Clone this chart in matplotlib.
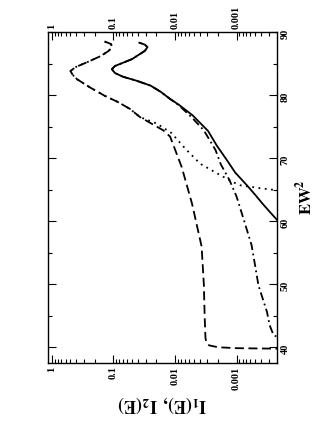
import matplotlib
matplotlib.use("Agg")
import matplotlib.pyplot as plt
from matplotlib.ticker import FixedLocator, FixedFormatter, LogLocator, NullFormatter, MultipleLocator

plt.rcParams['font.family'] = ['Liberation Serif', 'DejaVu Serif']
plt.rcParams['mathtext.fontset'] = 'stix'

# solid curve: EW^2 vs intensity
solid_ew = [59.5, 60.2, 61.5, 62.8, 64.2, 65.7, 67.7, 69.7, 72.0, 74.3, 76.8, 78.4,
            79.5, 80.5, 81.5, 82.3, 82.9, 83.5, 84.1, 84.6, 85.7, 87.0, 87.6, 88.0, 88.3]
solid_val = [1e-4, 2.2e-4, 2.9e-4, 3.8e-4, 5e-4, 6.8e-4, 1.05e-3, 1.44e-3, 2.1e-3, 2.9e-3, 5.2e-3, 8.5e-3,
             0.0125, 0.017, 0.025, 0.043, 0.07, 0.095, 0.106, 0.095, 0.05, 0.031, 0.028, 0.031, 0.038]

# dash-dot curve (joins the solid one above ~79)
dashdot_ew = [41.0, 41.9, 43.5, 45.6, 49.8, 53.0, 56.2, 60.0, 63.9, 66.5, 69.0, 71.3, 74.4, 76.5, 78.4,
              79.5, 80.5, 81.5, 82.3, 82.9, 83.5, 84.1, 84.6, 85.7, 87.0, 87.6, 88.0, 88.3]
dashdot_val = [1.5e-4, 2.5e-4, 2.9e-4, 3.2e-4, 4.4e-4, 5e-4, 5.7e-4, 7.5e-4, 1.0e-3, 1.3e-3, 1.8e-3, 2.2e-3, 3.4e-3, 5.4e-3, 8.7e-3,
               0.0125, 0.017, 0.025, 0.043, 0.07, 0.095, 0.106, 0.095, 0.05, 0.031, 0.028, 0.031, 0.038]

# long-dashed curve
dashed_ew = [39.75, 39.8, 39.85, 40.0, 40.3, 40.8, 41.5, 45.0, 50.0, 56.0, 62.8, 68.6, 73.4, 74.4,
             76.5, 77.8, 78.9, 79.9, 81.2, 82.5, 83.2, 83.8, 84.4, 85.2, 86.2, 87.0, 87.6, 88.1, 88.5]
dashed_val = [1e-4, 4e-4, 1e-3, 2e-3, 2.8e-3, 3.1e-3, 3.2e-3, 3.3e-3, 3.4e-3, 3.7e-3, 5.3e-3, 7.8e-3, 0.012, 0.0155,
              0.037, 0.054, 0.085, 0.14, 0.24, 0.39, 0.46, 0.5, 0.42, 0.27, 0.16, 0.12, 0.105, 0.11, 0.14]

# dotted curve
dotted_ew = [64.7, 64.9, 65.2, 65.7, 66.2, 67.5, 69.1, 71.5, 74.0, 75.5,
             76.5, 77.8, 78.9, 79.9, 81.2, 82.5, 83.2, 83.8, 84.4, 85.2, 86.2, 87.0, 87.6, 88.1, 88.5]
dotted_val = [1e-4, 2.2e-4, 4e-4, 8.8e-4, 1.15e-3, 2e-3, 3.9e-3, 6.8e-3, 0.0115, 0.02,
              0.037, 0.054, 0.085, 0.14, 0.24, 0.39, 0.46, 0.5, 0.42, 0.27, 0.16, 0.12, 0.105, 0.11, 0.14]

log_ticks = [1, 0.1, 0.01, 0.001]
log_labels = ['1', '0.1', '0.01', '0.001']
ew_ticks = [40, 50, 60, 70, 80, 90]

fig = plt.figure(figsize=(3.27, 4.23), dpi=100)
ax = fig.add_axes([48 / 327, 1 - 363 / 423, 229 / 327, 331 / 423])

lw = 1.3
ax.plot(dashdot_val, dashdot_ew, color='black', lw=lw, dashes=(4.5, 2, 1, 2))
ax.plot(solid_val, solid_ew, color='black', lw=lw)
ax.plot(dashed_val, dashed_ew, color='black', lw=lw, dashes=(5, 2.5))
ax.plot(dotted_val, dotted_ew, color='black', lw=lw, dashes=(1, 2.5))

ax.set_xscale('log')
ax.set_xlim(1.16, 2.2e-4)
ax.set_ylim(37.5, 90)

ax.xaxis.set_major_locator(FixedLocator(log_ticks))
ax.xaxis.set_major_formatter(FixedFormatter(log_labels))
ax.xaxis.set_minor_locator(LogLocator(base=10, subs=range(2, 10)))
ax.xaxis.set_minor_formatter(NullFormatter())
ax.yaxis.set_major_locator(FixedLocator(ew_ticks))
ax.yaxis.set_minor_locator(MultipleLocator(5))

ax.tick_params(axis='both', which='both', direction='in', top=True, bottom=True,
               left=True, right=True, labeltop=True, labelbottom=True,
               labelleft=False, labelright=True, width=0.8, labelsize=7.5, pad=2.5)
ax.tick_params(which='major', length=6)
ax.tick_params(which='minor', length=3)
ax.tick_params(axis='x', labelrotation=90)
ax.tick_params(axis='y', labelrotation=90)
for lab in ax.get_xticklabels() + ax.get_yticklabels():
    lab.set_fontweight('bold')

for sp in ax.spines.values():
    sp.set_linewidth(1.0)

ax.set_xlabel(r'$\mathbf{I_1(E),\ I_2(E)}$', rotation=180, fontsize=13, labelpad=3)
ax.yaxis.set_label_position('right')
ax.set_ylabel(r'$\mathbf{EW^2}$', rotation=90, fontsize=12, labelpad=4)

fig.savefig('out.png', dpi=100)
